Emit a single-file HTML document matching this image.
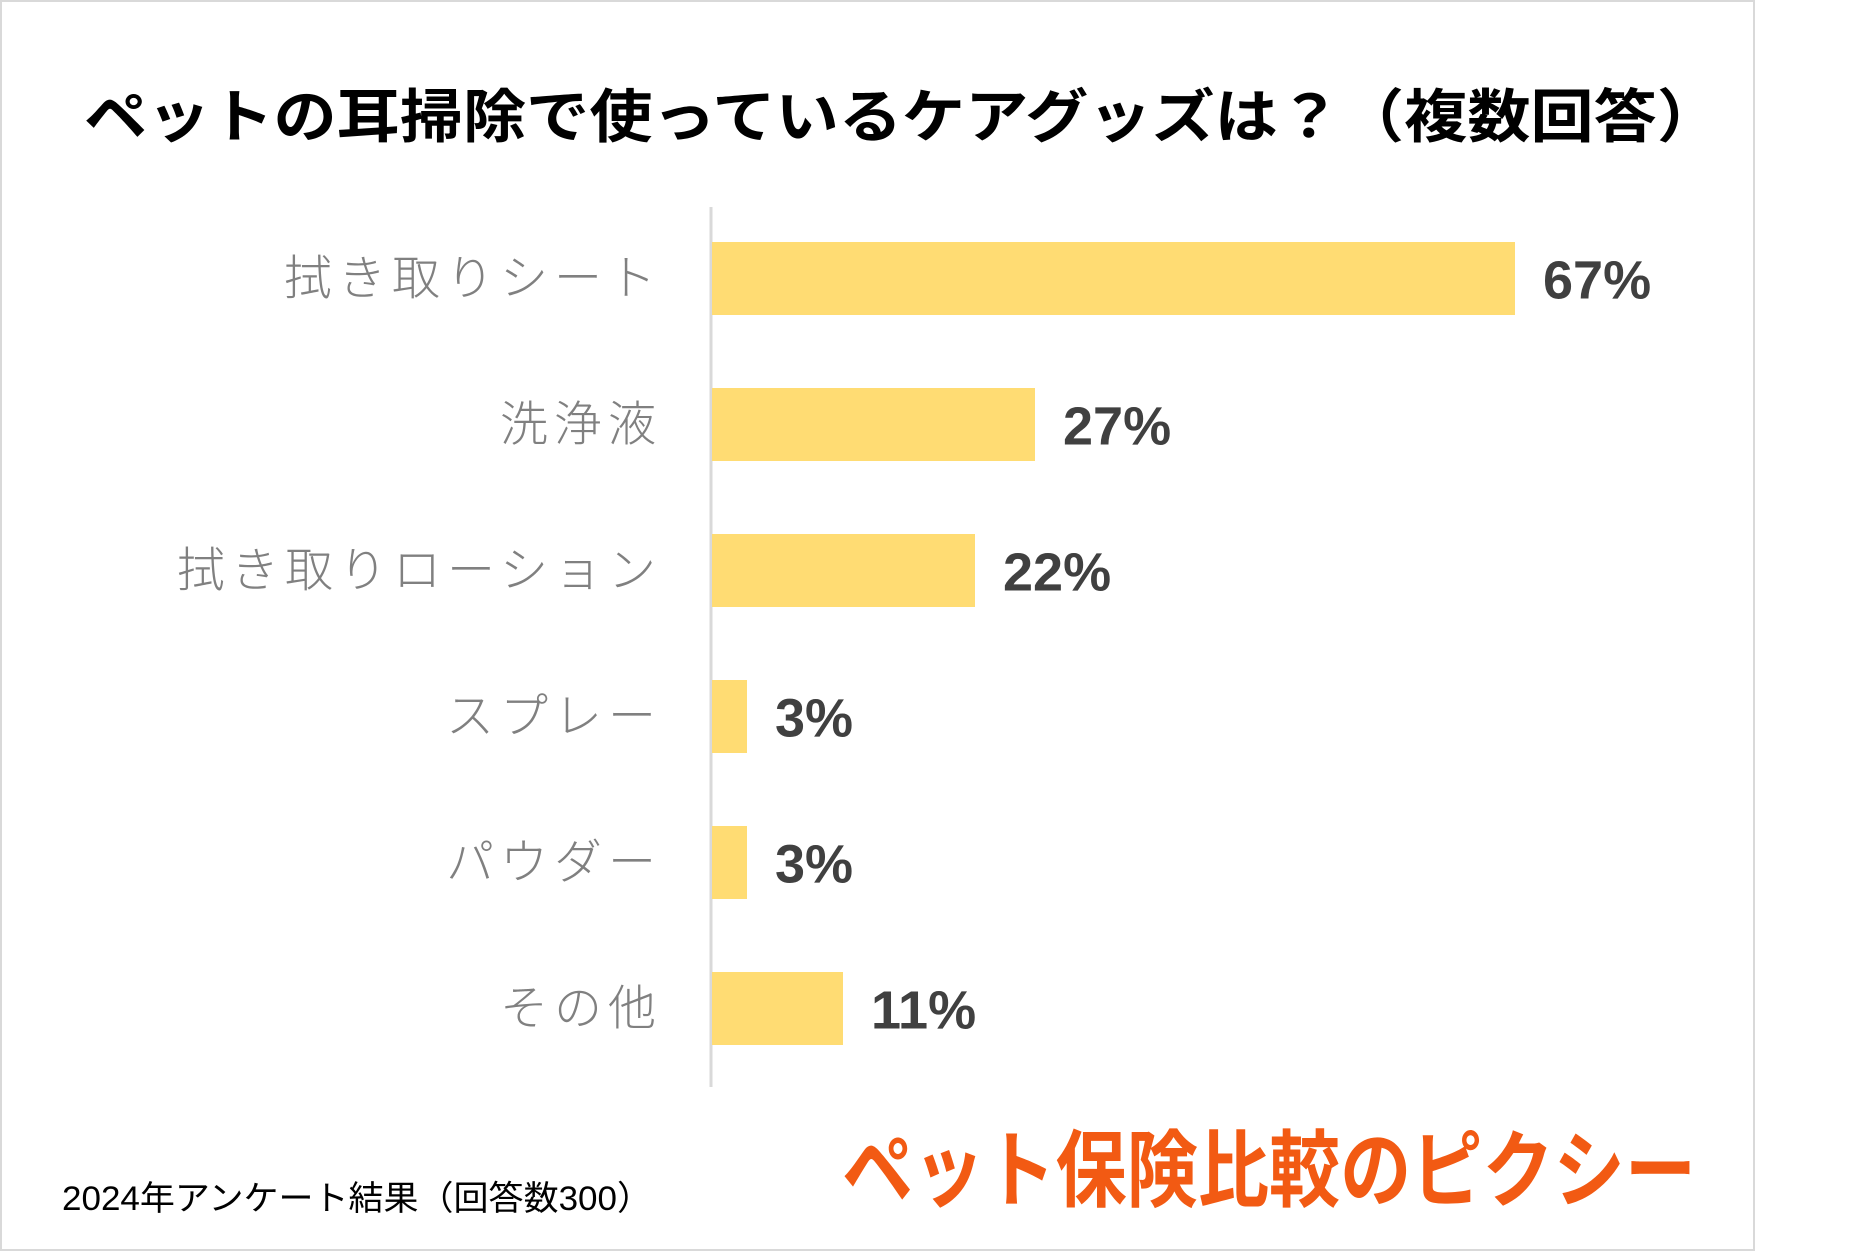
<!DOCTYPE html>
<html><head><meta charset="utf-8"><style>
body{margin:0;background:#fff}
svg{display:block}
text{font-family:"Liberation Sans","Noto Sans CJK JP",sans-serif}
</style></head><body>
<svg width="1863" height="1252" viewBox="0 0 1863 1252" id="chart">
<rect x="1" y="1" width="1753" height="1249" fill="#fff" stroke="#d9d9d9" stroke-width="2"/>
<text x="902" y="137" text-anchor="middle" font-size="58" font-weight="bold" fill="#000" textLength="1636" lengthAdjust="spacingAndGlyphs">ペットの耳掃除で使っているケアグッズは？（複数回答）</text>
<line x1="711" y1="207" x2="711" y2="1087" stroke="#d9d9d9" stroke-width="3"/>
<g id="bars"></g>
<text x="62" y="1210" font-size="34" fill="#000" textLength="590" lengthAdjust="spacingAndGlyphs">2024年アンケート結果（回答数300）</text>
<text x="842" y="1200" font-size="84" font-weight="bold" fill="#f25a13" textLength="854" lengthAdjust="spacingAndGlyphs">ペット保険比較のピクシー</text>
</svg>
<script>
const categories=["拭き取りシート","洗浄液","拭き取りローション","スプレー","パウダー","その他"];
const values=[67,27,22,3,3,11];
const valueLabels=["67%","27%","22%","3%","3%","11%"];
const ns="http://www.w3.org/2000/svg";
const g=document.getElementById('bars');
const x0=711, pxPer=12.0, top0=242, pitch=146, bh=73;
function xs(v){return x0+v*pxPer;}
function ys(i){return top0+i*pitch;}
categories.forEach((c,i)=>{
  const r=document.createElementNS(ns,'rect');
  r.setAttribute('x',x0+1);r.setAttribute('y',ys(i));
  r.setAttribute('width',xs(values[i])-x0-1);r.setAttribute('height',bh);
  r.setAttribute('fill','#ffdc73');
  
  
  g.appendChild(r);
  const t=document.createElementNS(ns,'text');
  t.setAttribute('x',662);t.setAttribute('y',ys(i)+bh/2+16);
  t.setAttribute('text-anchor','end');t.setAttribute('font-size','48');
  t.setAttribute('letter-spacing','6');
  t.setAttribute('fill','#808080');t.setAttribute('font-weight','300');
  t.textContent=c;
  
  
  g.appendChild(t);
  const v=document.createElementNS(ns,'text');
  v.setAttribute('x',xs(values[i])+28);v.setAttribute('y',ys(i)+bh/2+20);
  v.setAttribute('font-size','54');v.setAttribute('font-weight','bold');
  v.setAttribute('fill','#404040');
  v.textContent=valueLabels[i];
  
  
  g.appendChild(v);
});
</script>
</body></html>
